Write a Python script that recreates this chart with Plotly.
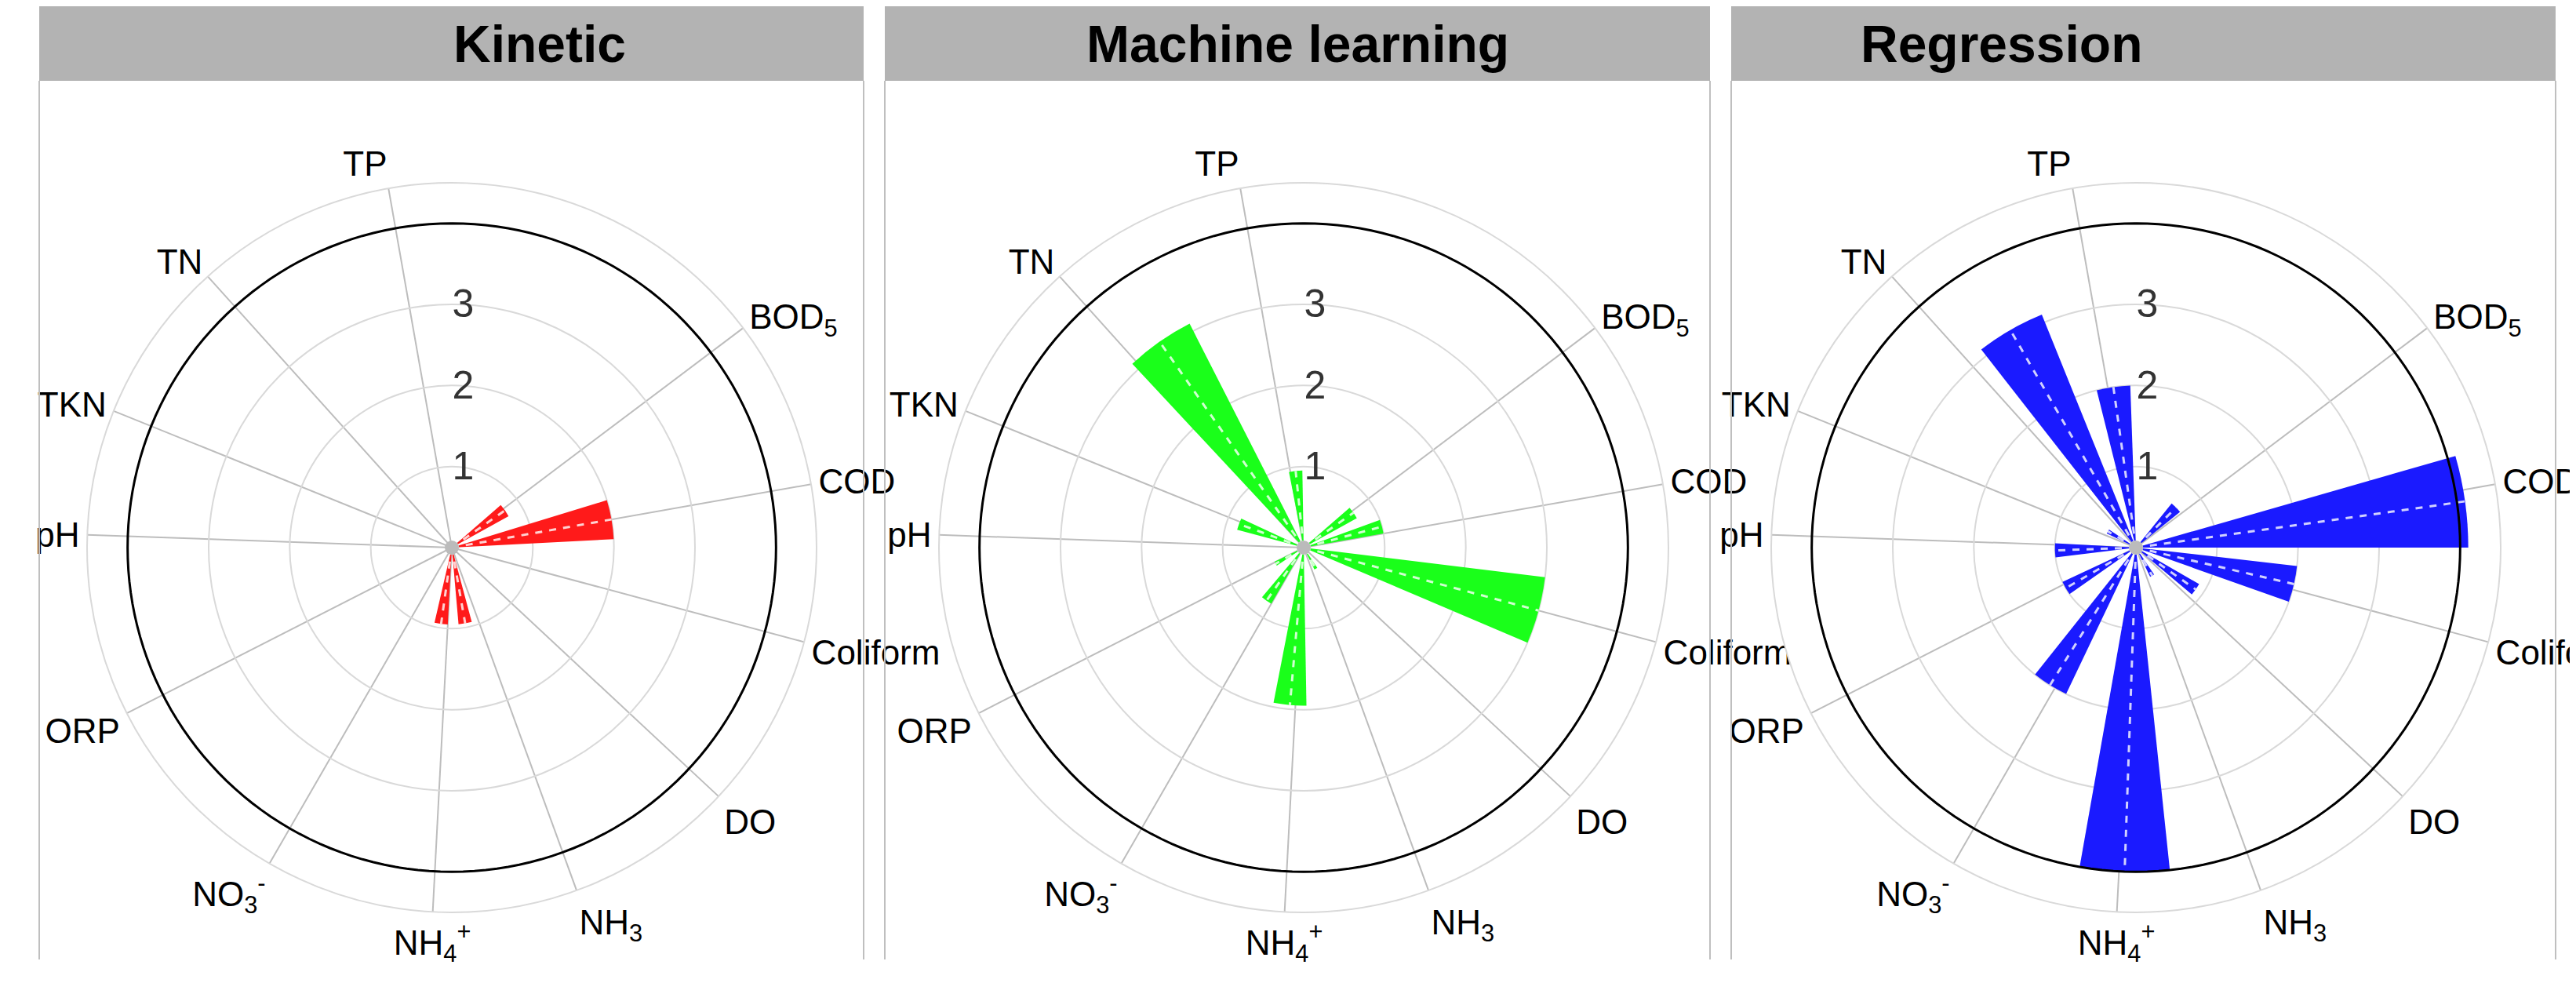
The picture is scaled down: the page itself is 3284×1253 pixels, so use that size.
import plotly.graph_objects as go

# category spokes (angle clockwise from top) and labels
cat_angles = [350, 53, 80, 105, 133, 160, 183, 210, 243, 272, 292, 318]
cat_labels = ["TP", "BOD<sub>5</sub>", "COD", "Coliform", "DO", "NH<sub>3</sub>",
              "NH<sub>4</sub><sup>+</sup>", "NO<sub>3</sub><sup>-</sup>", "ORP", "pH", "TKN", "TN"]

panels = ["Kinetic", "Machine learning", "Regression"]
colors = ["#ff1a1a", "#1aff1a", "#1a1aff"]

# bars: angle, length, width per model
kin_theta = [55, 80, 170, 188]
kin_r = [0.8, 2.0, 0.95, 0.95]
kin_w = [12, 14, 10, 10]

ml_theta = [-35, -6, -70, 55, 75, 105, 185, 215, 240, 150]
ml_r = [3.1, 0.95, 0.85, 0.75, 1.0, 3.0, 1.95, 0.8, 0.4, 0.3]
ml_w = [16, 10, 10, 12, 10, 16, 12, 10, 8, 8]

reg_theta = [-8, -30, 45, 82, 103, 125, 182, 212, 240, 268, 150, 300]
reg_r = [2.0, 3.1, 0.7, 4.1, 2.0, 0.9, 4.0, 2.0, 1.0, 1.0, 0.4, 0.4]
reg_w = [12, 16, 12, 16, 13, 10, 16, 13, 10, 10, 8, 8]

series = [(kin_theta, kin_r, kin_w), (ml_theta, ml_r, ml_w), (reg_theta, reg_r, reg_w)]

W, H = 3284, 1253
side = 930
centers_x = [568, 1654, 2715]
cy = 690
panel_x = [(42, 1093), (1120, 2172), (2199, 3250)]

fig = go.Figure()
layout = {}
circle_t = list(range(0, 361, 2))
for i, (th, rr, ww) in enumerate(series):
    pid = "polar" if i == 0 else "polar%d" % (i + 1)
    fig.add_trace(go.Barpolar(theta=th, r=rr, width=ww, marker_color=colors[i],
                              marker_line_width=0, subplot=pid, showlegend=False))
    dt, dr = [], []
    for a, v in zip(th, rr):
        dt += [a, a, None]
        dr += [0, v, None]
    fig.add_trace(go.Scatterpolar(theta=dt, r=dr, mode="lines", subplot=pid,
                                  line=dict(color="rgba(255,255,255,0.8)", width=3, dash="dash"),
                                  showlegend=False, hoverinfo="skip"))
    fig.add_trace(go.Scatterpolar(theta=circle_t, r=[4] * len(circle_t), mode="lines",
                                  subplot=pid, line=dict(color="black", width=3),
                                  showlegend=False, hoverinfo="skip"))
    fig.add_trace(go.Scatterpolar(theta=[0], r=[0], mode="markers", subplot=pid,
                                  marker=dict(color="#bbbbbb", size=18),
                                  showlegend=False, hoverinfo="skip"))
    x0 = (centers_x[i] - side / 2) / W
    layout[pid] = dict(
        domain=dict(x=[x0, x0 + side / W], y=[1 - (cy + side / 2) / H, 1 - (cy - side / 2) / H]),
        bgcolor="white",
        radialaxis=dict(range=[0, 4.5], tickvals=[1, 2, 3], showline=False, ticks="",
                        angle=90, tickangle=90, gridcolor="#d9d9d9", gridwidth=2,
                        tickfont=dict(size=50, color="#333333", family="Liberation Sans")),
        angularaxis=dict(rotation=90, direction="clockwise", tickmode="array",
                         tickvals=cat_angles, ticktext=cat_labels, ticks="",
                         gridcolor="#bdbdbd", gridwidth=2, linecolor="#d9d9d9", linewidth=2,
                         tickfont=dict(size=44, color="black", family="Liberation Sans")),
    )

shapes, annotations = [], []
for i, (a, b) in enumerate(panel_x):
    shapes.append(dict(type="rect", xref="paper", yref="paper", x0=a / W, x1=b / W,
                       y0=1 - 95 / H, y1=1, fillcolor="#b3b3b3", line_width=0, layer="below"))
    for xx in (a, b):
        shapes.append(dict(type="line", xref="paper", yref="paper", x0=xx / W, x1=xx / W,
                           y0=1 - 1215 / H, y1=1 - 95 / H, line=dict(color="#bfbfbf", width=2)))
    annotations.append(dict(text="<b>%s</b>" % panels[i], xref="paper", yref="paper",
                            x=(a + b) / 2 / W, y=1 - 48 / H, yanchor="middle", showarrow=False,
                            font=dict(size=66, color="black", family="Liberation Sans")))

fig.update_layout(width=W, height=H, margin=dict(l=0, r=0, t=0, b=0),
                  paper_bgcolor="white", shapes=shapes, annotations=annotations, **layout)
fig.write_html("out.html")
